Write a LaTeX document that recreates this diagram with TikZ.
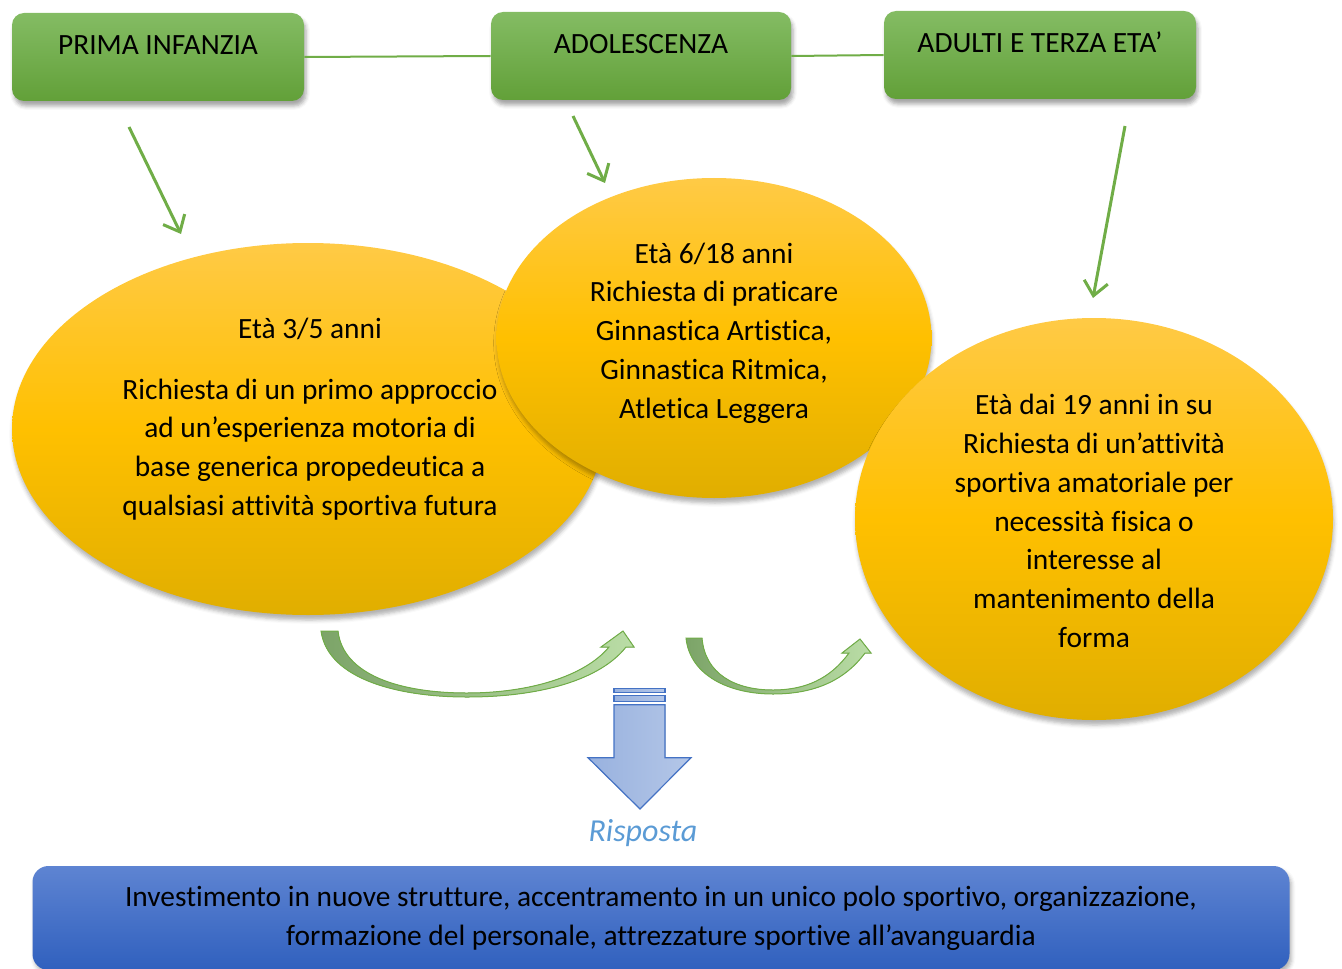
\documentclass[tikz,border=0pt]{standalone}
\usepackage{fontspec}
\setmainfont{Carlito}[Ligatures=CommonOff]
\usetikzlibrary{arrows.meta,shapes.geometric,shadows.blur}

\definecolor{verde}{RGB}{112,173,71}
\definecolor{verdechiaro}{RGB}{132,188,100}
\definecolor{verdescuro}{RGB}{98,160,56}
\definecolor{verdegrigio}{RGB}{124,164,104}
\definecolor{verdepallido}{RGB}{186,221,166}
\definecolor{giallochiaro}{RGB}{255,202,70}
\definecolor{giallo}{RGB}{255,192,0}
\definecolor{giallocupo}{RGB}{224,174,0}
\definecolor{blu}{RGB}{68,114,196}
\definecolor{bluchiaro}{RGB}{94,132,210}
\definecolor{bluscuro}{RGB}{48,96,190}
\definecolor{risposta}{RGB}{91,155,213}

\begin{document}
\begin{tikzpicture}[x=0.5pt,y=-0.5pt,
        font=\fontsize{14.7}{19.4}\selectfont,
        eta/.style = {rectangle,
            rounded corners=6pt,
            top color=verdechiaro, bottom color=verdescuro,
            minimum width=#1, minimum height=44pt,
            text height=10pt, text depth=12pt,
            blur shadow={shadow xshift=1pt, shadow yshift=-2.5pt, shadow opacity=35},
            },
        fase/.style = {ellipse,
            top color=giallochiaro, bottom color=giallocupo, middle color=giallo,
            blur shadow={shadow xshift=0.5pt, shadow yshift=-2.5pt, shadow opacity=30},
            },
        testo/.style = {align=center, inner sep=0pt},
        legame/.style = {verde, line width=1pt},
        freccia/.style = {verde, line width=1.5pt,
            -{Straight Barb[length=7pt, width=12pt, line width=1.5pt]}},
        curva/.style = {draw=verde, line width=0.5pt,
            left color=verdegrigio, right color=verdepallido},
        giu/.style = {draw=blu, line width=0.6pt,
            left color=blu!55!white, right color=blu!40!white}]

    \useasboundingbox (0,0) rectangle (1342,968);

    % Age groups
    \node[eta=146pt] (infanzia) at (158,57) {PRIMA INFANZIA};
    \node[eta=150pt] (adolescenza) at (641,56) {ADOLESCENZA};
    \node[eta=156pt] (adulti) at (1040,55) {ADULTI E TERZA ETA’};

    \draw[legame] (infanzia.east) -- (adolescenza.west);
    \draw[legame] (adolescenza.east) -- (adulti.west);

    % Requests
    \node[fase, minimum width=296pt, minimum height=186pt] (bambini) at (308,429) {};
    \node[testo] (bambini-testo) at (310,419)
        {Età 3/5 anni\\[11pt]
         Richiesta di un primo approccio\\
         ad un’esperienza motoria di\\
         base generica propedeutica a\\
         qualsiasi attività sportiva futura};
    \node[fase, minimum width=217.5pt, minimum height=160pt] (ragazzi) at (714,338) {};
    \node[testo] (ragazzi-testo) at (714,333)
        {Età 6/18 anni\\
         Richiesta di praticare\\
         Ginnastica Artistica,\\
         Ginnastica Ritmica,\\
         Atletica Leggera};
    \node[fase, minimum width=239pt, minimum height=201pt] (grandi) at (1094,519) {};
    \node[testo] (grandi-testo) at (1094,521)
        {Età dai 19 anni in su\\
         Richiesta di un’attività\\
         sportiva amatoriale per\\
         necessità fisica o\\
         interesse al\\
         mantenimento della\\
         forma};

    % Arrows from groups to requests
    \coordinate (i1) at (129,127);
    \coordinate (i2) at (181,234);
    \coordinate (a1) at (573,116);
    \coordinate (a2) at (605,183);
    \coordinate (t1) at (1125,126);
    \coordinate (t2) at (1093,298);
    \draw[freccia] (i1) -- (i2);
    \draw[freccia] (a1) -- (a2);
    \draw[freccia] (t1) -- (t2);

    % Curved arrows
    \filldraw[curva] (321,631) .. controls (328,680) and (400,697) .. (467,697)
        .. controls (540,697) and (600,680) .. (626,647) -- (634,647) -- (623,631)
        -- (601,647) -- (609,647) .. controls (585,676) and (530,693) .. (467,693)
        .. controls (400,693) and (343,675) .. (338,631) -- cycle;
    \filldraw[curva] (686,638) .. controls (690,676) and (730,694) .. (773,694)
        .. controls (815,694) and (845,680) .. (865,653) -- (871,653) -- (860,639)
        -- (842,653) -- (849,653) .. controls (830,679) and (805,690) .. (773,690)
        .. controls (735,690) and (705,674) .. (702,638) -- cycle;

    % Answer
    \filldraw[giu] (614,688.7) rectangle (665,692.3);
    \filldraw[giu] (614,695.3) rectangle (665,701.7);
    \filldraw[giu] (614,704.7) -- (665,704.7) -- (665,757.7) -- (691,757.7)
        -- (640,809) -- (588,757.7) -- (614,757.7) -- cycle;
    \node[risposta, font=\fontsize{16}{19.5}\selectfont\itshape] (risp) at (643,833) {Risposta};

    \node[rectangle, rounded corners=8pt, align=center,
        top color=bluchiaro, bottom color=bluscuro,
        minimum width=628.5pt, minimum height=52pt,
        blur shadow={shadow xshift=1pt, shadow yshift=-2pt, shadow opacity=30}]
        (investimento) at (661,918)
        {Investimento in nuove strutture, accentramento in un unico polo sportivo, organizzazione,\\
         formazione del personale, attrezzature sportive all’avanguardia};

\end{tikzpicture}
\end{document}
